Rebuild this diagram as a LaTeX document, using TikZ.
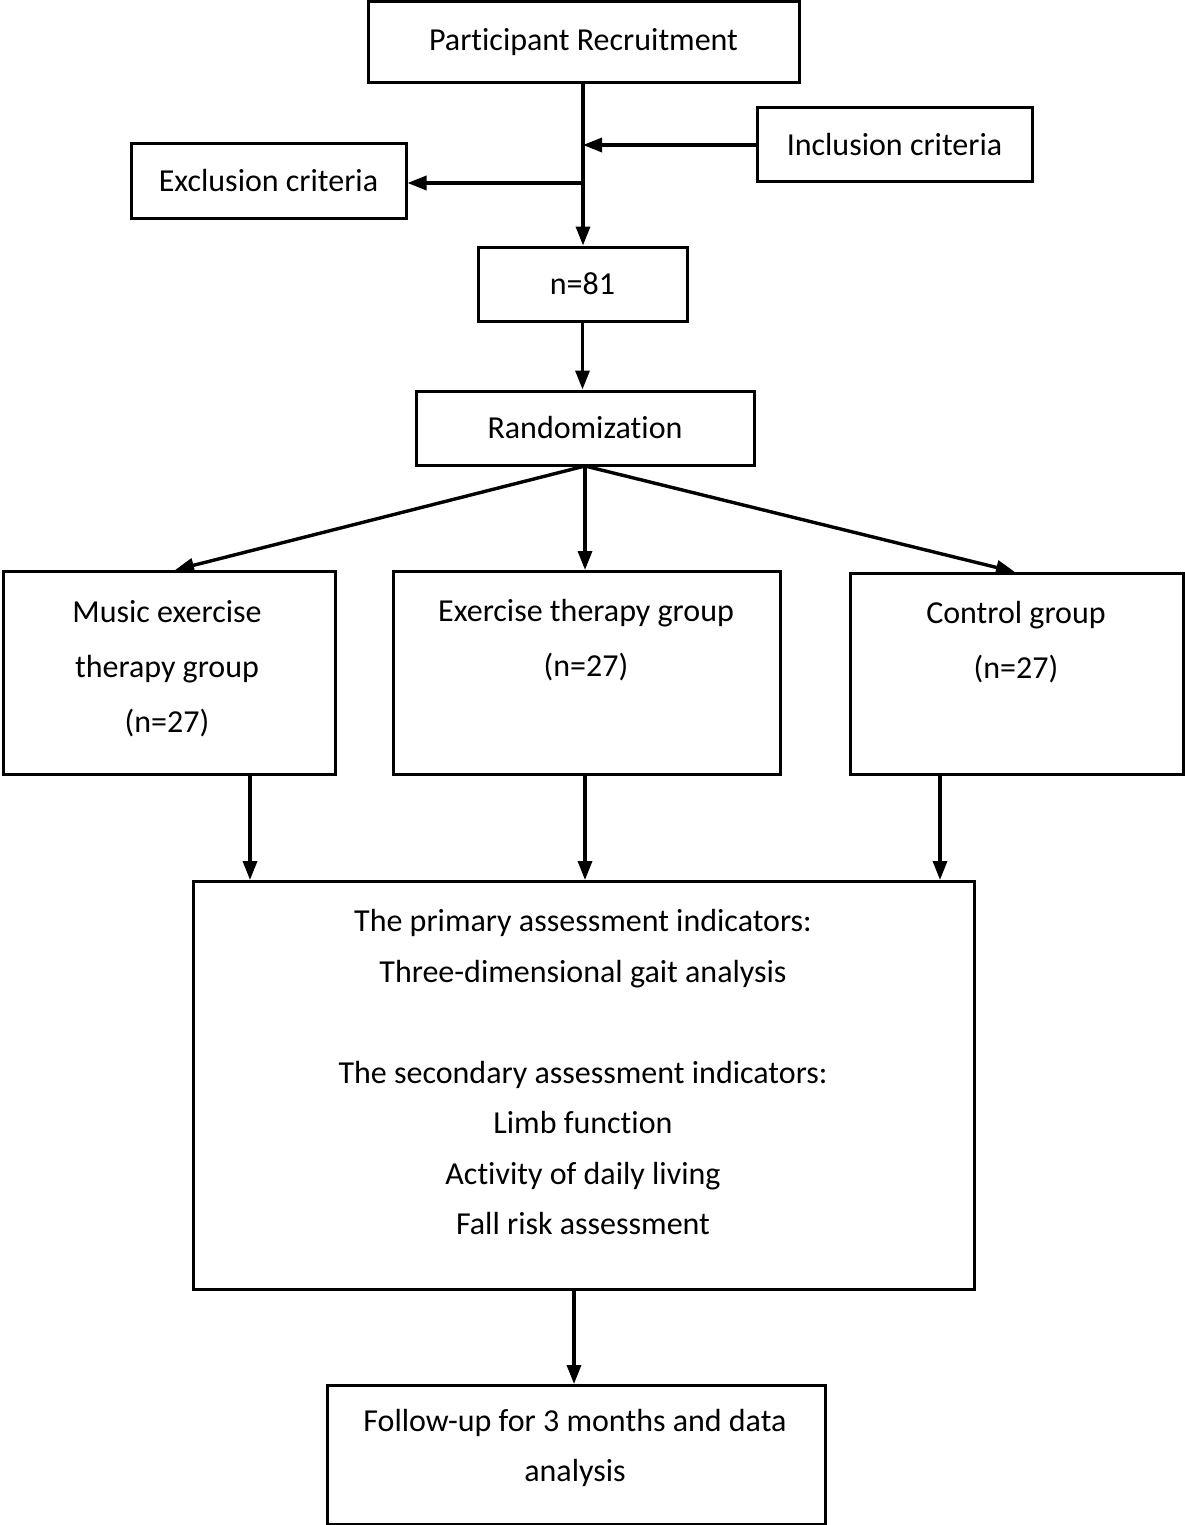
\documentclass[tikz,border=0pt]{standalone}
\usepackage{fontspec}
\setmainfont[Ligatures=NoCommon]{Carlito}
\usetikzlibrary{arrows.meta}
\begin{document}
\begin{tikzpicture}[x=1pt,y=-1pt,
  box/.style={draw, line width=3pt, rectangle, inner sep=0pt, align=center,
    font=\fontsize{32pt}{50pt}\selectfont},
  txt/.style={inner sep=0pt, align=center, font=\fontsize{32pt}{55pt}\selectfont},
  arr/.style={line width=3.4pt, -{Triangle[length=19pt,width=14pt]}},
  ln/.style={line width=3.4pt}]
\useasboundingbox (0,0) rectangle (1184,1525);
\fill[white] (0,0) rectangle (1184,1525);
% boxes
\node[box, minimum width=431pt, minimum height=81pt] (recruit) at (583.5,42.5) {Participant Recruitment};
\node[box, minimum width=275pt, minimum height=74pt] (incl) at (894.5,145) {Inclusion criteria};
\node[box, minimum width=275pt, minimum height=74pt] (excl) at (268.5,181) {Exclusion criteria};
\node[box, minimum width=209pt, minimum height=74pt] (n81) at (582.5,284) {n=81};
\node[box, minimum width=338pt, minimum height=74pt] (rand) at (585,428) {Randomization};
\node[box, minimum width=332pt, minimum height=203pt, anchor=north west] (music) at (1.5,570) {};
\node[box, minimum width=387pt, minimum height=203pt, anchor=north west] (exer) at (392,570) {};
\node[box, minimum width=333pt, minimum height=201pt, anchor=north west] (ctrl) at (849,572) {};
\node[box, minimum width=781pt, minimum height=408pt, anchor=north west] (assess) at (192,880) {};
\node[box, minimum width=498pt, minimum height=139pt, anchor=north west] (follow) at (326,1384) {};
% texts
\node[txt, anchor=center] (musict) at (167,669) {Music exercise\\therapy group\\(n=27)};
\node[txt, anchor=center] (exert) at (586,640) {Exercise therapy group\\(n=27)};
\node[txt, anchor=center] (ctrlt) at (1016,642) {Control group\\(n=27)};
\node[txt, anchor=center, font=\fontsize{32pt}{50.5pt}\selectfont] (assesst) at (583,1072)
  {The primary assessment indicators:\\Three-dimensional gait analysis\\[50.5pt]The secondary assessment indicators:\\Limb function\\Activity of daily living\\Fall risk assessment};
\node[txt, anchor=center, font=\fontsize{32pt}{50pt}\selectfont] (followt) at (575,1448) {Follow-up for 3 months and data\\analysis};
% connectors
\coordinate (jin) at (583,145);
\coordinate (jout) at (583,183);
\draw[arr] (recruit.south -| jin) -- (n81.north -| jin);
\draw[arr] (incl.west) -- (jin);
\draw[arr] (jout) -- (excl.east |- jout);
\draw[arr] (n81.south) -- (rand.north -| n81.south);
\coordinate (rs) at (585,466);
\draw[arr] (rs) -- (175,570);
\draw[arr] (rs) -- (exer.north -| rs);
\draw[arr] (rs) -- (1015,572);
\coordinate (mx) at (250,0);
\coordinate (ex) at (585,0);
\coordinate (cx) at (940,0);
\draw[arr] (music.south -| mx) -- (assess.north -| mx);
\draw[arr] (exer.south -| ex) -- (assess.north -| ex);
\draw[arr] (ctrl.south -| cx) -- (assess.north -| cx);
\coordinate (fx) at (574,0);
\draw[arr] (assess.south -| fx) -- (follow.north -| fx);
\end{tikzpicture}
\end{document}
